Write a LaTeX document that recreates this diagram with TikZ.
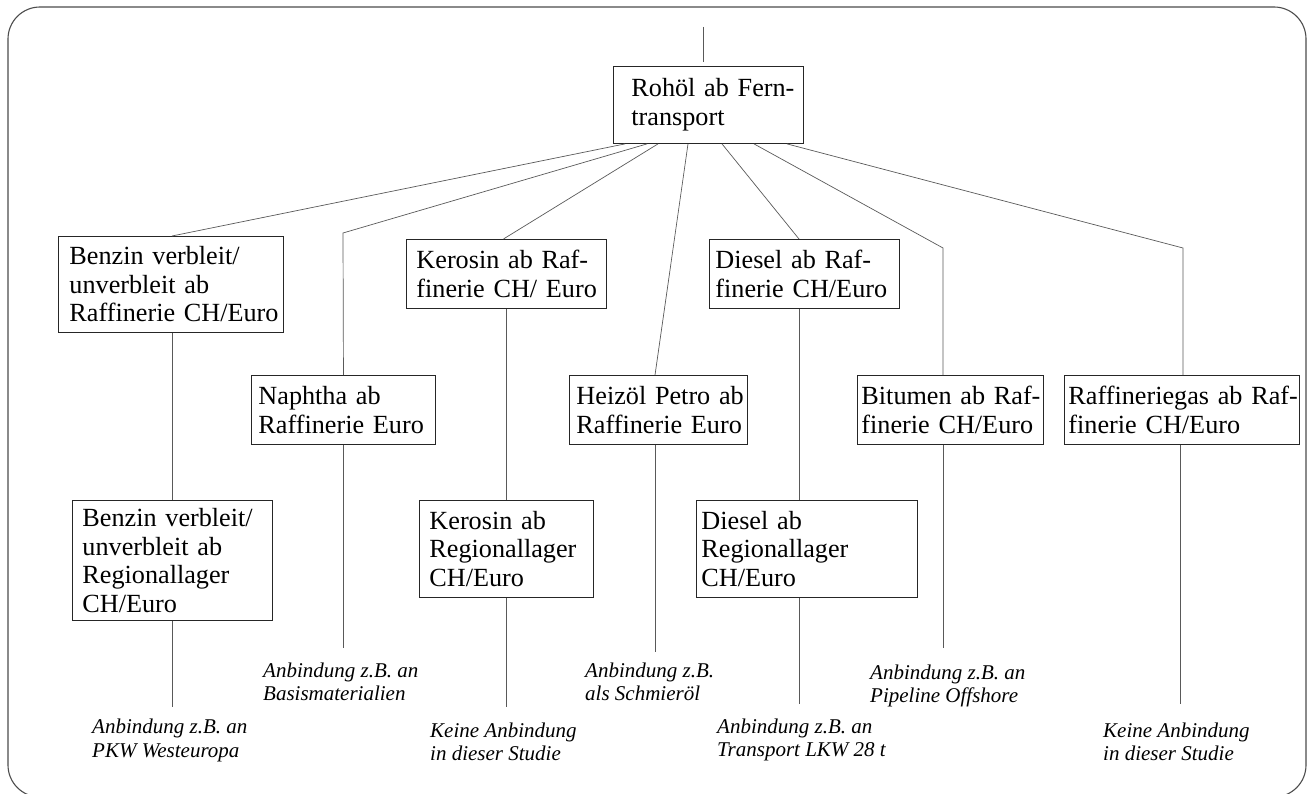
\documentclass[tikz,border=0pt]{standalone}
\usepackage{fontspec}
\setmainfont{Liberation Serif}
\newcommand{\boxfont}{\fontsize{26.2}{28.5}\selectfont}
\newcommand{\notefont}{\fontsize{21}{23.5}\selectfont\itshape}
\tikzset{
  frame/.style={draw=black!70, line width=1.1pt, rounded corners=32pt},
  conn/.style={draw=black!65, line width=0.7pt},
  % #1 width, #2 height, #3 left padding, #4 text width
  pbox/.style n args={4}{draw=black!85, line width=0.9pt, anchor=north west,
    inner ysep=0pt, inner xsep=#3, minimum width=#1, minimum height=#2,
    text width=#4, align=left, font=\boxfont},
  note/.style={anchor=north west, inner sep=0pt, align=left, font=\notefont},
}
\begin{document}
\begin{tikzpicture}[x=1pt, y=-1pt]
\useasboundingbox (0,0) rectangle (1308,794);
\draw[frame] (8,7) rectangle (1306,797);

% product boxes
\node[pbox={190}{77}{18pt}{154pt}] (root) at (613,66) {\mbox{Rohöl ab Fern-}\\transport};
\node[pbox={225}{96}{11pt}{203pt}] (b1) at (58,236) {\mbox{Benzin verbleit/}\\\mbox{unverbleit ab}\\\mbox{Raffinerie CH/Euro}};
\node[pbox={200}{69}{10pt}{180pt}] (k1) at (406,239) {\mbox{Kerosin ab Raf-}\\\mbox{finerie CH/ Euro}};
\node[pbox={190}{69}{6pt}{178pt}] (d1) at (709,239) {\mbox{Diesel ab Raf-}\\\mbox{finerie CH/Euro}};
\node[pbox={184}{69}{7pt}{170pt}] (nap) at (251,375) {\mbox{Naphtha ab}\\\mbox{Raffinerie Euro}};
\node[pbox={178}{69}{7pt}{164pt}] (heiz) at (569,375) {\mbox{Heizöl Petro ab}\\\mbox{Raffinerie Euro}};
\node[pbox={186}{69}{4pt}{178pt}] (bit) at (857,375) {\mbox{Bitumen ab Raf-}\\\mbox{finerie CH/Euro}};
\node[pbox={235}{69}{4pt}{227pt}] (raff) at (1064,375) {\mbox{Raffineriegas ab Raf-}\\\mbox{finerie CH/Euro}};
\node[pbox={200}{120}{10pt}{180pt}] (b2) at (72,500) {\mbox{Benzin verbleit/}\\\mbox{unverbleit ab}\\Regionallager\\CH/Euro};
\node[pbox={174}{97}{10pt}{154pt}] (k2) at (419,500) {\mbox{Kerosin ab}\\Regionallager\\CH/Euro};
\node[pbox={221}{97}{5pt}{211pt}] (d2) at (696,500) {\mbox{Diesel ab}\\Regionallager\\CH/Euro};

% notes on the links
\node[note] (lb) at (92,719.2) {Anbindung z.B. an\\PKW Westeuropa};
\node[note] (ln) at (263,662.7) {Anbindung z.B. an\\Basismaterialien};
\node[note] (lk) at (430,722.7) {Keine Anbindung\\in dieser Studie};
\node[note] (lh) at (585,662.7) {Anbindung z.B.\\als Schmieröl};
\node[note] (ld) at (717,718.7) {Anbindung z.B. an\\Transport LKW 28 t};
\node[note] (lbit) at (870,664.7) {Anbindung z.B. an\\Pipeline Offshore};
\node[note] (lr) at (1103,722.7) {Keine Anbindung\\in dieser Studie};

% bends and loose ends
\coordinate (top) at (703,27);
\coordinate (nk) at (343,233);
\coordinate (bk) at (943,248);
\coordinate (rk) at (1183,248);
\coordinate (eb) at (172,707);
\coordinate (en) at (343,648);
\coordinate (ek) at (506,707);
\coordinate (eh) at (655,652);
\coordinate (ed) at (799,704);
\coordinate (ebit) at (943,648);
\coordinate (er) at (1180,704);

% connectors
\draw[conn, shorten >=4pt] (top) -- (top |- root.north);
\draw[conn] ([xshift=12pt]root.south west) -- ([xshift=114pt]b1.north west);
\draw[conn] ([xshift=34pt]root.south west) -- (nk) -- (nap.north);
\draw[conn] ([xshift=45pt]root.south west) -- ([xshift=-3pt]k1.north);
\draw[conn] ([xshift=75pt]root.south west) -- ([xshift=86pt]heiz.north west);
\draw[conn] ([xshift=109pt]root.south west) -- ([xshift=90pt]d1.north west);
\draw[conn] ([xshift=141pt]root.south west) -- (bk) -- (bk |- bit.north);
\draw[conn] ([xshift=174pt]root.south west) -- (rk) -- (rk |- raff.north);

\draw[conn] (b2.north |- b1.south) -- (b2.north);
\draw[conn] (k1.south) -- (k1.south |- k2.north);
\draw[conn] ([xshift=90pt]d1.south west) -- ([xshift=90pt]d1.south west |- d2.north);

\draw[conn] (eb |- b2.south) -- (eb);
\draw[conn] (en |- nap.south) -- (en);
\draw[conn] (ek |- k2.south) -- (ek);
\draw[conn] (eh |- heiz.south) -- (eh);
\draw[conn] (ed |- d2.south) -- (ed);
\draw[conn] (ebit |- bit.south) -- (ebit);
\draw[conn] (er |- raff.south) -- (er);
\end{tikzpicture}
\end{document}
